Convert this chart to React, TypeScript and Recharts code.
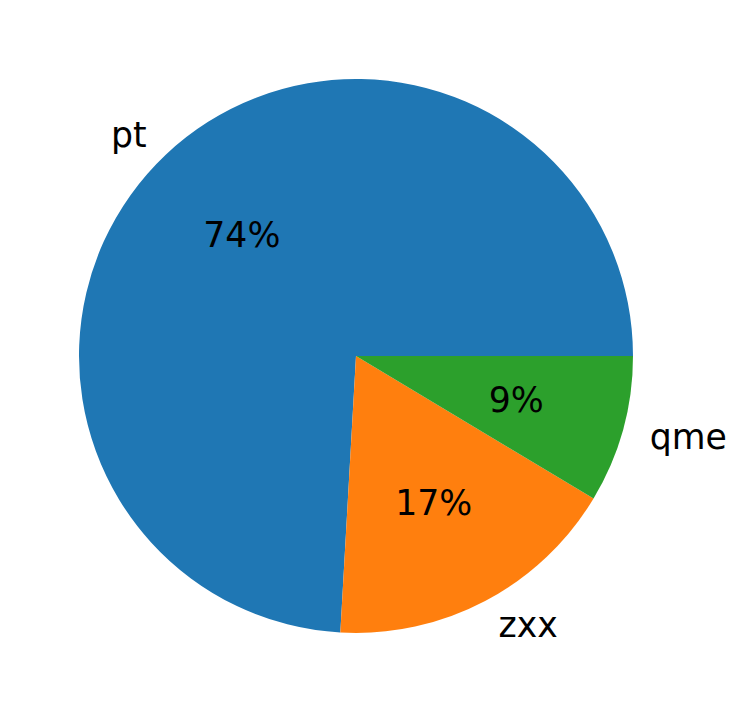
import React from "react";
import { PieChart, Pie, Cell } from "recharts";

const categories = ["pt", "zxx", "qme"];
const values = [74.1, 17.3, 8.6];
const colors = ["#1f77b4", "#ff7f0e", "#2ca02c"];

const data = categories.map((name, i) => ({ name, value: values[i] }));
const total = values.reduce((a, b) => a + b, 0);
const RADIAN = Math.PI / 180;
const FONT = "'DejaVu Sans', sans-serif";
const FS = 34.7;

const renderLabel = (props: any) => {
  const { cx, cy, midAngle, outerRadius, index, value } = props;
  const cos = Math.cos(-midAngle * RADIAN);
  const sin = Math.sin(-midAngle * RADIAN);
  const lx = cx + outerRadius * 1.1 * cos;
  const ly = cy + outerRadius * 1.1 * sin;
  const px = cx + outerRadius * 0.6 * cos;
  const py = cy + outerRadius * 0.6 * sin;
  const pct = Math.round((value / total) * 100);
  return (
    <g>
      <text
        x={lx}
        y={ly}
        textAnchor={lx < cx ? "end" : "start"}
        dominantBaseline="central"
        fontFamily={FONT}
        fontSize={FS}
        fill="#000"
      >
        {categories[index]}
      </text>
      <text
        x={px}
        y={py}
        textAnchor="middle"
        dominantBaseline="central"
        fontFamily={FONT}
        fontSize={FS}
        fill="#000"
      >
        {pct}%
      </text>
    </g>
  );
};

export default function App() {
  return (
    <PieChart width={729} height={705} margin={{ top: 0, right: 0, bottom: 0, left: 0 }}>
      <Pie
        data={data}
        dataKey="value"
        nameKey="name"
        cx={348}
        cy={348}
        outerRadius={277}
        startAngle={0}
        endAngle={360}
        stroke="none"
        label={renderLabel}
        labelLine={false}
        isAnimationActive={false}
      >
        {data.map((d, i) => (
          <Cell key={d.name} fill={colors[i]} />
        ))}
      </Pie>
    </PieChart>
  );
}
